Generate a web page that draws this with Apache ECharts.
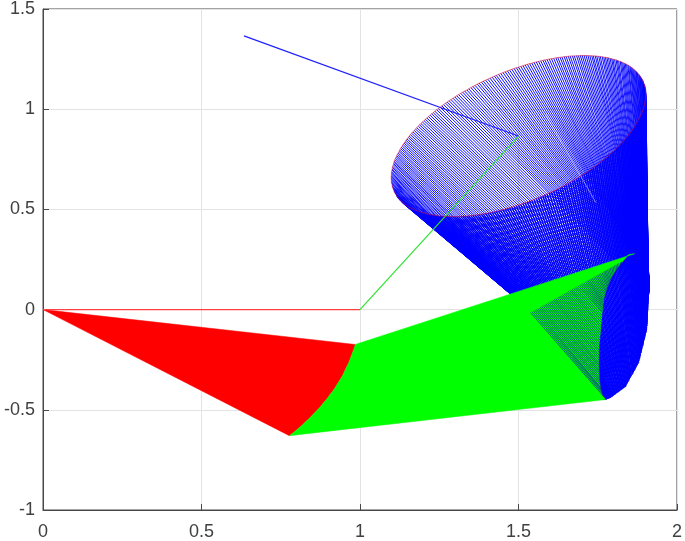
<!DOCTYPE html>
<html>
<head>
<meta charset="utf-8">
<style>
html, body { margin: 0; padding: 0; background: #fff; }
#chart { width: 685px; height: 541px; }
</style>
<script src="https://cdn.jsdelivr.net/npm/echarts@6/dist/echarts.min.js"></script>
</head>
<body>
<div id="chart"></div>
<script>
const xTicks = [0, 0.5, 1, 1.5, 2];
const yTicks = [-1, -0.5, 0, 0.5, 1, 1.5];

// first pose of the arm
const link1 = [[0, 0], [1, 0]];
const link2 = [[1, 0], [1.5, 0.866]];
const link3 = [[1.5, 0.866], [0.634, 1.366]];

// end of link 1, swept
const elbowArc = [
  [0.985,-0.174],[0.982,-0.191],[0.978,-0.208],[0.974,-0.225],[0.970,-0.242],[0.966,-0.259],
  [0.961,-0.276],[0.956,-0.292],[0.951,-0.309],[0.946,-0.326],[0.940,-0.342],[0.934,-0.358],
  [0.927,-0.375],[0.921,-0.391],[0.914,-0.407],[0.906,-0.423],[0.899,-0.438],[0.891,-0.454],
  [0.883,-0.469],[0.875,-0.485],[0.866,-0.500],[0.857,-0.515],[0.848,-0.530],[0.839,-0.545],
  [0.829,-0.559],[0.819,-0.574],[0.809,-0.588],[0.799,-0.602],[0.788,-0.616],[0.777,-0.629]
];

// where the green fan stops, bottom to top
const greenEdge = [
  [1.775,-0.449],[1.764,-0.425],[1.759,-0.399],[1.755,-0.350],[1.753,-0.264],[1.754,-0.180],
  [1.759,-0.100],[1.763,-0.025],[1.768,0.050],[1.779,0.110],[1.794,0.165],[1.815,0.215],
  [1.847,0.274],[1.866,0.279]
];

// pale streak across the blue lines
const seam = [[1.586, 0.973], [1.744, 0.534]];

// end effector path (red curve), blue lines start here
const tracePoints = [
  [1.902,1.073],[1.901,1.085],[1.901,1.097],[1.899,1.108],[1.898,1.119],[1.895,1.130],[1.893,1.140],[1.890,1.150],
  [1.886,1.160],[1.882,1.169],[1.877,1.178],[1.872,1.187],[1.867,1.195],[1.861,1.203],[1.855,1.210],[1.848,1.218],
  [1.841,1.224],[1.833,1.230],[1.825,1.236],[1.816,1.241],[1.808,1.246],[1.798,1.250],[1.789,1.254],[1.779,1.258],
  [1.769,1.260],[1.758,1.263],[1.747,1.265],[1.736,1.266],[1.725,1.267],[1.713,1.268],[1.701,1.268],[1.689,1.267],
  [1.676,1.266],[1.663,1.265],[1.650,1.263],[1.637,1.260],[1.624,1.258],[1.611,1.254],[1.597,1.250],[1.583,1.246],
  [1.570,1.241],[1.556,1.236],[1.542,1.230],[1.528,1.224],[1.514,1.217],[1.500,1.210],[1.486,1.203],[1.472,1.195],[1.458,1.187],
  [1.444,1.178],[1.430,1.169],[1.417,1.160],[1.403,1.150],[1.389,1.140],[1.376,1.130],[1.363,1.119],[1.350,1.108],
  [1.337,1.096],[1.324,1.085],[1.311,1.073],[1.299,1.061],[1.287,1.048],[1.275,1.036],[1.264,1.023],[1.253,1.010],
  [1.242,0.997],[1.231,0.983],[1.221,0.970],[1.211,0.956],[1.202,0.943],[1.192,0.929],[1.184,0.915],[1.175,0.901],
  [1.167,0.887],[1.159,0.873],[1.152,0.859],[1.145,0.845],[1.139,0.831],[1.133,0.817],[1.128,0.803],[1.123,0.789],
  [1.118,0.775],[1.114,0.762],[1.110,0.748],[1.107,0.735],[1.105,0.722],[1.102,0.709],[1.101,0.696],[1.099,0.683],
  [1.099,0.671],[1.098,0.659],[1.099,0.647],[1.099,0.635],[1.101,0.624],[1.102,0.613],[1.105,0.602],[1.107,0.592],
  [1.110,0.582],[1.114,0.572],[1.118,0.563],[1.123,0.554],[1.128,0.545],[1.133,0.537],[1.139,0.529],[1.145,0.522],
  [1.152,0.514],[1.159,0.508],[1.167,0.502],[1.175,0.496],[1.184,0.491],[1.192,0.486],[1.202,0.482],[1.211,0.478],
  [1.221,0.474],[1.231,0.472],[1.242,0.469],[1.253,0.467],[1.264,0.466],[1.275,0.465],[1.287,0.464],[1.299,0.464],
  [1.311,0.465],[1.324,0.466],[1.337,0.467],[1.350,0.469],[1.363,0.472],[1.376,0.474],[1.389,0.478],[1.403,0.482],
  [1.417,0.486],[1.430,0.491],[1.444,0.496],[1.458,0.502],[1.472,0.508],[1.486,0.515],[1.500,0.522],[1.514,0.529],
  [1.528,0.537],[1.542,0.545],[1.556,0.554],[1.570,0.563],[1.583,0.572],[1.597,0.582],[1.611,0.592],[1.624,0.602],
  [1.637,0.613],[1.650,0.624],[1.663,0.636],[1.676,0.647],[1.689,0.659],[1.701,0.671],[1.713,0.684],[1.725,0.696],
  [1.736,0.709],[1.747,0.722],[1.758,0.735],[1.769,0.749],[1.779,0.762],[1.789,0.776],[1.798,0.789],[1.808,0.803],
  [1.816,0.817],[1.825,0.831],[1.833,0.845],[1.841,0.859],[1.848,0.873],[1.855,0.887],[1.861,0.901],[1.867,0.915],
  [1.872,0.929],[1.877,0.943],[1.882,0.956],[1.886,0.970],[1.890,0.983],[1.893,0.997],[1.895,1.010],[1.898,1.023],
  [1.899,1.036],[1.901,1.048],[1.901,1.061]
];

// lower end of each blue line, same order as tracePoints
const wristPoints = [
  [1.910,0.065],[1.910,0.069],[1.910,0.073],[1.911,0.077],[1.911,0.081],[1.911,0.085],[1.912,0.089],[1.912,0.093],
  [1.912,0.097],[1.912,0.101],[1.913,0.105],[1.913,0.109],[1.913,0.113],[1.913,0.117],[1.913,0.121],[1.913,0.125],
  [1.912,0.132],[1.911,0.138],[1.911,0.145],[1.910,0.151],[1.909,0.158],[1.909,0.164],[1.908,0.171],[1.907,0.177],
  [1.907,0.184],[1.906,0.190],[1.905,0.197],[1.905,0.203],[1.904,0.210],[1.902,0.213],[1.900,0.217],[1.898,0.220],
  [1.896,0.224],[1.894,0.227],[1.893,0.231],[1.891,0.234],[1.889,0.238],[1.887,0.241],[1.885,0.245],[1.883,0.248],
  [1.881,0.252],[1.879,0.255],[1.877,0.259],[1.876,0.262],[1.874,0.266],[1.872,0.269],[1.873,0.258],[1.875,0.247],[1.876,0.235],
  [1.877,0.224],[1.879,0.212],[1.880,0.201],[1.881,0.190],[1.882,0.179],[1.884,0.167],[1.885,0.156],[1.886,0.145],
  [1.888,0.133],[1.889,0.122],[1.890,0.111],[1.891,0.100],[1.890,0.081],[1.888,0.062],[1.887,0.043],[1.885,0.024],
  [1.884,0.005],[1.882,-0.014],[1.881,-0.033],[1.879,-0.052],[1.875,-0.070],[1.872,-0.087],[1.868,-0.105],[1.864,-0.122],
  [1.860,-0.140],[1.857,-0.158],[1.853,-0.175],[1.848,-0.189],[1.844,-0.204],[1.839,-0.218],[1.835,-0.232],[1.830,-0.246],
  [1.825,-0.261],[1.821,-0.275],[1.816,-0.289],[1.809,-0.296],[1.801,-0.303],[1.794,-0.310],[1.787,-0.318],[1.780,-0.325],
  [1.772,-0.332],[1.765,-0.339],[1.763,-0.320],[1.762,-0.315],[1.760,-0.310],[1.758,-0.305],[1.757,-0.300],[1.755,-0.298],
  [1.753,-0.296],[1.753,-0.295],[1.753,-0.294],[1.753,-0.293],[1.753,-0.293],[1.753,-0.292],[1.753,-0.292],[1.753,-0.291],
  [1.753,-0.290],[1.754,-0.295],[1.754,-0.300],[1.755,-0.305],[1.756,-0.310],[1.757,-0.316],[1.757,-0.322],[1.758,-0.328],
  [1.759,-0.335],[1.760,-0.350],[1.762,-0.365],[1.763,-0.385],[1.764,-0.405],[1.766,-0.428],[1.767,-0.438],[1.769,-0.449],
  [1.769,-0.449],[1.770,-0.449],[1.770,-0.449],[1.771,-0.449],[1.771,-0.449],[1.772,-0.449],[1.772,-0.449],[1.772,-0.449],
  [1.773,-0.449],[1.773,-0.449],[1.774,-0.449],[1.774,-0.449],[1.774,-0.449],[1.775,-0.449],[1.775,-0.449],[1.778,-0.447],
  [1.781,-0.445],[1.785,-0.443],[1.788,-0.441],[1.791,-0.439],[1.796,-0.434],[1.800,-0.428],[1.805,-0.423],[1.810,-0.417],
  [1.815,-0.412],[1.819,-0.406],[1.824,-0.401],[1.829,-0.395],[1.833,-0.390],[1.838,-0.384],[1.842,-0.372],[1.846,-0.360],
  [1.850,-0.348],[1.854,-0.336],[1.859,-0.324],[1.863,-0.312],[1.867,-0.300],[1.871,-0.288],[1.875,-0.276],[1.879,-0.264],
  [1.882,-0.248],[1.884,-0.231],[1.887,-0.215],[1.889,-0.198],[1.892,-0.182],[1.894,-0.166],[1.897,-0.149],[1.899,-0.133],
  [1.902,-0.116],[1.904,-0.100],[1.905,-0.082],[1.906,-0.063],[1.906,-0.045],[1.907,-0.027],[1.908,-0.008],[1.908,0.010],
  [1.909,0.028],[1.909,0.047],[1.910,0.055]
];

// second pass of blue lines, between the ones above
const tracePoints2 = [
  [1.902,1.079],[1.901,1.091],[1.900,1.103],[1.899,1.114],[1.897,1.125],[1.894,1.135],[1.892,1.145],[1.888,1.155],
  [1.884,1.165],[1.880,1.174],[1.875,1.183],[1.870,1.191],[1.864,1.199],[1.858,1.207],[1.852,1.214],[1.845,1.221],
  [1.837,1.227],[1.829,1.233],[1.821,1.239],[1.812,1.244],[1.803,1.248],[1.794,1.252],[1.784,1.256],[1.774,1.259],
  [1.764,1.262],[1.753,1.264],[1.742,1.266],[1.731,1.267],[1.719,1.268],[1.707,1.268],[1.695,1.268],[1.683,1.267],
  [1.670,1.266],[1.657,1.264],[1.644,1.262],[1.631,1.259],[1.618,1.256],[1.604,1.252],[1.590,1.248],[1.577,1.244],
  [1.563,1.239],[1.549,1.233],[1.535,1.227],[1.521,1.221],[1.507,1.214],[1.493,1.207],[1.479,1.199],[1.465,1.191],
  [1.451,1.183],[1.437,1.174],[1.424,1.165],[1.410,1.155],[1.396,1.145],[1.383,1.135],[1.370,1.125],[1.356,1.114],
  [1.343,1.102],[1.330,1.091],[1.318,1.079],[1.305,1.067],[1.293,1.055],[1.281,1.042],[1.270,1.030],[1.258,1.017],
  [1.247,1.003],[1.236,0.990],[1.226,0.977],[1.216,0.963],[1.206,0.950],[1.197,0.936],[1.188,0.922],[1.179,0.908],
  [1.171,0.894],[1.163,0.880],[1.155,0.866],[1.148,0.852],[1.142,0.838],[1.136,0.824],[1.130,0.810],[1.125,0.796],
  [1.120,0.782],[1.116,0.768],[1.112,0.755],[1.108,0.741],[1.106,0.728],[1.103,0.715],[1.101,0.702],[1.100,0.689],
  [1.099,0.677],[1.098,0.665],[1.098,0.653],[1.099,0.641],[1.100,0.629],[1.101,0.618],[1.103,0.607],[1.106,0.597],
  [1.108,0.587],[1.112,0.577],[1.116,0.567],[1.120,0.558],[1.125,0.549],[1.130,0.541],[1.136,0.533],[1.142,0.525],
  [1.148,0.518],[1.155,0.511],[1.163,0.505],[1.171,0.499],[1.179,0.493],[1.188,0.488],[1.197,0.484],[1.206,0.480],
  [1.216,0.476],[1.226,0.473],[1.236,0.470],[1.247,0.468],[1.258,0.466],[1.270,0.465],[1.281,0.464],[1.293,0.464],
  [1.305,0.464],[1.318,0.465],[1.330,0.466],[1.343,0.468],[1.356,0.470],[1.370,0.473],[1.383,0.476],[1.396,0.480],
  [1.410,0.484],[1.424,0.488],[1.437,0.493],[1.451,0.499],[1.465,0.505],[1.479,0.511],[1.493,0.518],[1.507,0.525],
  [1.521,0.533],[1.535,0.541],[1.549,0.549],[1.563,0.558],[1.577,0.567],[1.590,0.577],[1.604,0.587],[1.618,0.597],
  [1.631,0.607],[1.644,0.618],[1.657,0.630],[1.670,0.641],[1.683,0.653],[1.695,0.665],[1.707,0.677],[1.719,0.690],
  [1.731,0.703],[1.742,0.715],[1.753,0.728],[1.764,0.742],[1.774,0.755],[1.784,0.769],[1.794,0.782],[1.803,0.796],
  [1.812,0.810],[1.821,0.824],[1.829,0.838],[1.837,0.852],[1.845,0.866],[1.852,0.880],[1.858,0.894],[1.864,0.908],
  [1.870,0.922],[1.875,0.936],[1.880,0.950],[1.884,0.963],[1.888,0.976],[1.892,0.990],[1.894,1.003],[1.897,1.017],
  [1.899,1.029],[1.900,1.042],[1.901,1.054],[1.902,1.067]
];
const wristPoints2 = [
  [1.910,0.067],[1.910,0.071],[1.911,0.075],[1.911,0.079],[1.911,0.083],[1.912,0.087],[1.912,0.091],[1.912,0.095],
  [1.912,0.099],[1.913,0.103],[1.913,0.107],[1.913,0.111],[1.913,0.115],[1.913,0.119],[1.913,0.123],[1.913,0.128],
  [1.912,0.135],[1.911,0.141],[1.910,0.148],[1.910,0.154],[1.909,0.161],[1.908,0.167],[1.908,0.174],[1.907,0.180],
  [1.906,0.187],[1.906,0.193],[1.905,0.200],[1.904,0.206],[1.903,0.211],[1.901,0.215],[1.899,0.218],[1.897,0.222],
  [1.895,0.225],[1.893,0.229],[1.892,0.232],[1.890,0.236],[1.888,0.239],[1.886,0.243],[1.884,0.246],[1.882,0.250],
  [1.880,0.253],[1.878,0.257],[1.876,0.260],[1.875,0.264],[1.873,0.267],[1.872,0.263],[1.874,0.252],[1.875,0.241],
  [1.876,0.230],[1.878,0.218],[1.879,0.207],[1.880,0.196],[1.882,0.184],[1.883,0.173],[1.884,0.162],[1.885,0.150],
  [1.887,0.139],[1.888,0.128],[1.889,0.116],[1.890,0.105],[1.890,0.090],[1.889,0.071],[1.887,0.052],[1.886,0.033],
  [1.884,0.014],[1.883,-0.005],[1.881,-0.024],[1.880,-0.043],[1.877,-0.061],[1.873,-0.079],[1.870,-0.096],[1.866,-0.114],
  [1.862,-0.131],[1.858,-0.149],[1.855,-0.167],[1.850,-0.182],[1.846,-0.197],[1.841,-0.211],[1.837,-0.225],[1.832,-0.239],
  [1.827,-0.254],[1.823,-0.268],[1.818,-0.282],[1.812,-0.293],[1.805,-0.300],[1.797,-0.307],[1.790,-0.314],[1.783,-0.322],
  [1.776,-0.329],[1.768,-0.336],[1.764,-0.325],[1.762,-0.318],[1.761,-0.312],[1.759,-0.307],[1.757,-0.302],[1.756,-0.299],
  [1.754,-0.297],[1.753,-0.295],[1.753,-0.294],[1.753,-0.294],[1.753,-0.293],[1.753,-0.292],[1.753,-0.292],[1.753,-0.291],
  [1.753,-0.290],[1.753,-0.292],[1.754,-0.297],[1.755,-0.302],[1.755,-0.307],[1.756,-0.313],[1.757,-0.319],[1.758,-0.325],
  [1.758,-0.332],[1.760,-0.342],[1.761,-0.357],[1.762,-0.375],[1.764,-0.395],[1.765,-0.422],[1.766,-0.433],[1.768,-0.444],
  [1.769,-0.449],[1.769,-0.449],[1.770,-0.449],[1.770,-0.449],[1.771,-0.449],[1.771,-0.449],[1.772,-0.449],[1.772,-0.449],
  [1.772,-0.449],[1.773,-0.449],[1.773,-0.449],[1.774,-0.449],[1.774,-0.449],[1.774,-0.449],[1.775,-0.449],[1.776,-0.448],
  [1.780,-0.446],[1.783,-0.444],[1.786,-0.442],[1.790,-0.440],[1.793,-0.436],[1.798,-0.431],[1.803,-0.425],[1.807,-0.420],
  [1.812,-0.414],[1.817,-0.409],[1.822,-0.403],[1.826,-0.398],[1.831,-0.392],[1.836,-0.387],[1.840,-0.378],[1.844,-0.366],
  [1.848,-0.354],[1.852,-0.342],[1.856,-0.330],[1.861,-0.318],[1.865,-0.306],[1.869,-0.294],[1.873,-0.282],[1.877,-0.270],
  [1.880,-0.256],[1.883,-0.239],[1.885,-0.223],[1.888,-0.206],[1.890,-0.190],[1.893,-0.174],[1.895,-0.157],[1.898,-0.141],
  [1.900,-0.124],[1.903,-0.108],[1.904,-0.091],[1.905,-0.072],[1.906,-0.054],[1.906,-0.036],[1.907,-0.017],[1.908,0.001],
  [1.908,0.019],[1.909,0.037],[1.909,0.051],[1.910,0.060]
];

// blue showing through the green near the wrist
const hatchFrom = [
  [1.538,-0.015],[1.5425,-0.011],[1.547,-0.007],[1.5515,-0.003],[1.556,0.001],[1.5605,0.0045],[1.565,0.008],[1.569,0.012],
  [1.573,0.016],[1.5775,0.020],[1.582,0.024],[1.5865,0.028],[1.591,0.032],[1.5955,0.036],[1.600,0.040],[1.6045,0.044],
  [1.609,0.048],[1.613,0.0515],[1.617,0.055],[1.6215,0.059],[1.626,0.063],[1.6305,0.067],[1.635,0.071],[1.6395,0.075],
  [1.644,0.079],[1.6485,0.083],[1.653,0.087],[1.6575,0.091],[1.662,0.095],[1.666,0.0985],[1.670,0.102],[1.6745,0.106],
  [1.679,0.110],[1.6835,0.114],[1.688,0.118],[1.6925,0.122],[1.697,0.126],[1.7015,0.130],[1.706,0.134],[1.7105,0.138],
  [1.715,0.142],[1.719,0.1455],[1.723,0.149],[1.7275,0.153],[1.732,0.157],[1.7365,0.161],[1.741,0.165],[1.7455,0.169],
  [1.750,0.173],[1.7545,0.177],[1.759,0.181],[1.7635,0.185],[1.768,0.189],[1.772,0.1925],[1.776,0.196],[1.7805,0.200],
  [1.785,0.204],[1.7895,0.208],[1.794,0.212],[1.7985,0.216],[1.803,0.220],[1.8075,0.224],[1.812,0.228],[1.8165,0.232],
  [1.821,0.236],[1.825,0.2395],[1.829,0.243],[1.8335,0.247],[1.838,0.251]
];
const hatchTo = [
  [1.772,-0.440],[1.770,-0.428],[1.767,-0.415],[1.764,-0.403],[1.760,-0.390],[1.760,-0.378],[1.759,-0.365],[1.758,-0.353],
  [1.757,-0.340],[1.757,-0.328],[1.756,-0.315],[1.755,-0.303],[1.755,-0.290],[1.754,-0.278],[1.753,-0.265],[1.754,-0.253],
  [1.754,-0.240],[1.754,-0.228],[1.755,-0.215],[1.755,-0.203],[1.755,-0.190],[1.756,-0.178],[1.756,-0.165],[1.757,-0.153],
  [1.757,-0.140],[1.758,-0.128],[1.758,-0.115],[1.759,-0.103],[1.760,-0.090],[1.760,-0.078],[1.761,-0.065],[1.762,-0.053],
  [1.762,-0.040],[1.763,-0.028],[1.764,-0.015],[1.764,-0.007],[1.765,0.001],[1.765,0.009],[1.766,0.016],[1.766,0.024],
  [1.767,0.031],[1.767,0.039],[1.768,0.047],[1.769,0.055],[1.771,0.062],[1.773,0.070],[1.775,0.077],[1.777,0.085],
  [1.778,0.092],[1.780,0.100],[1.782,0.108],[1.783,0.115],[1.785,0.123],[1.787,0.131],[1.789,0.138],[1.791,0.146],
  [1.794,0.153],[1.797,0.161],[1.800,0.169],[1.803,0.176],[1.807,0.184],[1.810,0.192],[1.814,0.199],[1.818,0.207],
  [1.822,0.214],[1.826,0.222],[1.830,0.230],[1.834,0.238],[1.838,0.245]
];

const RED = '#ff0000';
const GREEN = '#00ff00';
const BLUE = '#0000ff';
const FONT = '"Liberation Sans", Arial, sans-serif';

// lines that start on the lower part of the curve only show below it, so they can be heavier
const LOWER_START = 98;
const LOWER_END = 172;

function pairLines(from, to) {
    return from.map((p, i) => ({ coords: [p, to[i]] }));
}

function fan(points, color) {
    return {
        type: 'custom',
        coordinateSystem: 'cartesian2d',
        silent: true,
        data: [[0, 0]],
        renderItem(params, api) {
            return {
                type: 'polygon',
                shape: { points: points.map((p) => api.coord(p)) },
                style: { fill: color, stroke: color, lineWidth: 0.5 }
            };
        }
    };
}

function segs(data, color, width) {
    return {
        type: 'lines',
        coordinateSystem: 'cartesian2d',
        silent: true,
        data: data,
        lineStyle: { color: color, width: width, opacity: 1, curveness: 0 }
    };
}

function path(points, color, width, opacity) {
    return {
        type: 'line',
        silent: true,
        showSymbol: false,
        data: points,
        lineStyle: { color: color, width: width, opacity: opacity }
    };
}

function axisCommon(min, max, margin) {
    return {
        type: 'value',
        min: min,
        max: max,
        interval: 0.5,
        axisLine: { show: true, onZero: false, lineStyle: { color: '#484848', width: 1 } },
        axisTick: { show: true, inside: true, length: 6, lineStyle: { color: '#484848', width: 1 } },
        axisLabel: { color: '#404040', fontFamily: FONT, fontSize: 18, margin: margin,
            showMinLabel: true, showMaxLabel: true, hideOverlap: false },
        splitLine: { show: true, lineStyle: { color: '#e3e3e3', width: 1 } }
    };
}

const chart = echarts.init(document.getElementById('chart'), null, { renderer: 'canvas' });
chart.setOption({
    animation: false,
    backgroundColor: '#ffffff',
    grid: { left: 43, top: 9, width: 635, height: 501, show: true, backgroundColor: 'transparent',
        borderColor: '#484848', borderWidth: 1 },
    xAxis: axisCommon(xTicks[0], xTicks[xTicks.length - 1], 13),
    yAxis: axisCommon(yTicks[0], yTicks[yTicks.length - 1], 8),
    series: [
        fan([[0, 0]].concat(elbowArc), RED),
        path(link2, '#30e030', 1.2, 1),
        path(link3, '#2020ff', 1.2, 1),
        segs(pairLines(tracePoints, wristPoints), BLUE, 0.95),
        segs(pairLines(tracePoints2, wristPoints2), BLUE, 0.95),
        segs(pairLines(tracePoints.slice(LOWER_START, LOWER_END), wristPoints.slice(LOWER_START, LOWER_END)), BLUE, 1.25),
        segs(pairLines(tracePoints2.slice(LOWER_START, LOWER_END), wristPoints2.slice(LOWER_START, LOWER_END)), BLUE, 1.25),
        fan(elbowArc.concat(greenEdge), GREEN),
        segs(pairLines(hatchFrom, hatchTo), '#0000c0', 0.6),
        path(link1, '#ff4040', 1.4, 1),
        path(seam, '#ffffff', 1, 0.45),
        path(tracePoints.concat([tracePoints[0]]), '#e01030', 0.8, 0.7)
    ]
});
</script>
</body>
</html>
